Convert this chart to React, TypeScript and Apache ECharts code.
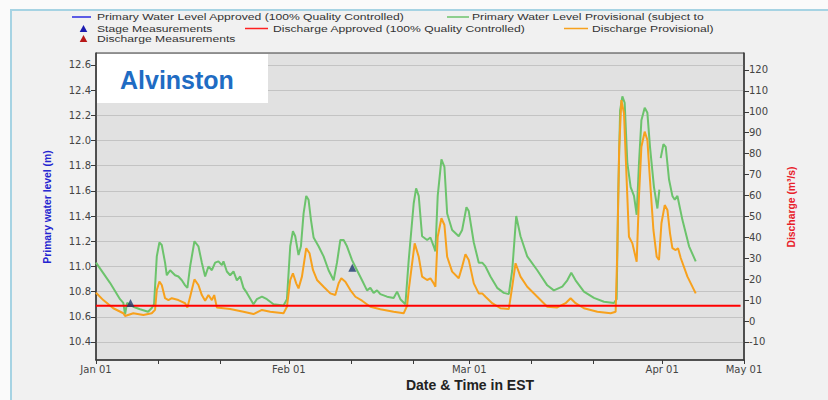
import React, { useEffect, useRef } from "react";
import * as echarts from "echarts";

// ---- data ----
const xLabelDays = [0, 31, 60, 91, 104.15];
const xLabelTexts = ["Jan 01", "Feb 01", "Mar 01", "Apr 01", "May 01"];
const xTickDays = [0, 10, 20, 31, 41, 51, 60, 70, 80, 91, 104.15];
const levelTicks = [10.4, 10.6, 10.8, 11.0, 11.2, 11.4, 11.6, 11.8, 12.0, 12.2, 12.4, 12.6];
const dischargeTicks = [-10, 0, 10, 20, 30, 40, 50, 60, 70, 80, 90, 100, 110, 120];

// Primary water level provisional: [day since Jan 01, level (m)]
const levelProvisional = [
  [0, 11.03], [2.25, 10.87], [3.86, 10.74], [4.39, 10.71], [4.67, 10.62], [4.99, 10.71], [6.0, 10.68],
  [7.08, 10.66], [8.37, 10.64], [8.96, 10.67], [9.33, 10.7], [9.77, 11.08], [10.19, 11.19], [10.57, 11.17],
  [11.1, 11.03], [11.38, 10.93], [11.91, 10.97], [12.71, 10.93], [13.24, 10.92], [13.79, 10.89], [14.32, 10.85],
  [14.69, 10.83], [15.13, 11.0], [15.82, 11.2], [16.46, 11.16], [17.01, 11.03], [17.54, 10.92], [18.07, 11.0],
  [18.62, 10.97], [19.15, 11.03], [19.68, 11.04], [20.23, 11.01], [20.49, 11.04], [21.03, 10.96], [21.56, 10.93],
  [22.1, 10.96], [22.64, 10.89], [23.17, 10.92], [23.7, 10.83], [24.25, 10.79], [25.31, 10.7], [25.86, 10.74],
  [26.67, 10.76], [27.47, 10.74], [28.53, 10.7], [30.14, 10.69], [30.69, 10.74], [31.22, 11.16], [31.65, 11.28],
  [32.02, 11.24], [32.55, 11.09], [32.94, 11.16], [33.36, 11.42], [33.79, 11.56], [34.16, 11.53], [34.55, 11.37],
  [34.97, 11.23], [35.77, 11.16], [36.58, 11.08], [37.38, 10.97], [38.19, 10.89], [38.73, 11.03], [39.27, 11.21],
  [39.8, 11.21], [40.34, 11.16], [41.15, 11.05], [41.95, 10.97], [42.76, 10.89], [43.56, 10.81], [44.09, 10.83],
  [44.62, 10.79], [45.17, 10.81], [45.7, 10.78], [46.78, 10.76], [47.84, 10.75], [48.39, 10.8], [48.92, 10.74],
  [49.73, 10.7], [50.26, 11.05], [51.06, 11.5], [51.45, 11.62], [51.87, 11.56], [52.41, 11.24], [53.22, 11.21],
  [53.75, 11.23], [54.28, 11.16], [54.55, 11.12], [54.92, 11.56], [55.52, 11.85], [56.0, 11.79], [56.44, 11.42],
  [57.24, 11.29], [58.3, 11.24], [58.85, 11.29], [59.54, 11.47], [59.91, 11.44], [60.72, 11.19], [61.52, 11.03],
  [62.07, 11.03], [62.6, 11.0], [63.4, 10.92], [64.48, 10.83], [65.55, 10.79], [66.35, 10.78], [66.9, 10.97],
  [67.54, 11.4], [68.23, 11.24], [69.31, 11.08], [70.92, 10.97], [72.53, 10.85], [73.59, 10.81], [74.94, 10.84],
  [75.75, 10.89], [76.39, 10.95], [77.08, 10.89], [78.42, 10.8], [80.03, 10.75], [81.64, 10.72], [83.25, 10.71],
  [83.68, 10.74], [83.92, 11.53], [84.24, 12.24], [84.6, 12.35], [84.97, 12.3], [85.4, 11.82], [85.93, 11.63],
  [86.47, 11.56], [86.9, 11.41], [87.27, 11.82], [87.66, 12.16], [88.19, 12.26], [88.62, 12.22], [89.04, 11.95],
  [89.68, 11.63], [90.23, 11.46], [90.55, 11.61], [90.65, "-"], [90.76, 11.86], [91.2, 11.97], [91.57, 11.95],
  [92.1, 11.69], [92.64, 11.56], [93.02, 11.53], [93.45, 11.56], [94.25, 11.37], [95.32, 11.16], [96.39, 11.04],
];

// Discharge provisional: [day since Jan 01, discharge (m3/s)]
const dischargeProvisional = [
  [0, 13.5], [1.17, 10.0], [2.78, 6.1], [4.39, 3.7], [4.67, 2.4], [6.0, 3.7], [7.61, 2.9], [8.96, 3.7],
  [9.49, 5.3], [9.77, 14.8], [10.19, 18.8], [10.57, 17.2], [11.1, 10.9], [11.64, 10.0], [12.18, 10.9],
  [13.24, 10.0], [14.32, 8.5], [14.69, 6.5], [15.13, 11.6], [15.82, 19.9], [16.46, 17.2], [17.01, 12.4],
  [17.54, 9.7], [18.07, 12.4], [18.62, 10.0], [19.0, 12.4], [19.42, 6.5], [21.56, 5.7], [23.7, 4.4],
  [25.31, 3.3], [26.67, 5.3], [28.0, 4.4], [30.14, 3.7], [30.69, 6.8], [31.22, 19.6], [31.65, 22.8],
  [32.18, 18.0], [32.55, 15.6], [33.1, 21.2], [33.79, 34.8], [34.32, 32.4], [34.87, 24.4], [35.52, 19.6],
  [36.58, 16.4], [37.66, 13.2], [38.46, 12.4], [39.0, 18.0], [39.43, 20.4], [40.08, 18.8], [40.88, 14.8],
  [41.69, 11.6], [42.76, 9.7], [44.09, 6.8], [45.7, 5.6], [47.84, 4.4], [49.45, 3.7], [50.0, 7.2],
  [50.26, 14.8], [51.22, 37.1], [51.87, 30.7], [52.41, 21.2], [53.22, 19.6], [53.75, 20.4], [54.28, 18.0],
  [54.55, 16.4], [54.92, 40.3], [55.52, 49.1], [56.0, 45.9], [56.44, 30.7], [57.24, 23.6], [58.3, 20.4],
  [58.85, 26.0], [59.38, 31.9], [59.91, 29.2], [60.72, 18.0], [61.52, 13.2], [62.07, 13.2], [62.6, 11.6],
  [63.68, 8.5], [65.01, 6.1], [66.35, 5.7], [66.9, 16.4], [67.43, 27.6], [68.23, 21.2], [69.31, 16.4],
  [70.92, 11.6], [72.53, 6.8], [74.14, 6.5], [75.47, 8.5], [76.28, 10.9], [77.08, 8.5], [78.42, 6.1],
  [80.58, 4.4], [82.72, 3.7], [83.52, 4.4], [83.79, 33.9], [84.08, 81.7], [84.44, 105.6], [84.86, 99.3],
  [85.29, 67.4], [85.66, 40.3], [86.21, 37.1], [86.58, 32.4], [86.9, 28.3], [87.27, 59.4], [87.66, 83.3],
  [88.19, 90.5], [88.62, 86.5], [89.04, 67.4], [89.59, 43.5], [90.12, 30.7], [90.49, 29.2], [90.88, 46.7],
  [91.41, 55.4], [91.84, 53.1], [92.26, 41.9], [92.64, 34.8], [93.17, 33.9], [93.55, 34.8], [93.98, 30.1],
  [95.06, 21.2], [96.39, 13.2],
];

// Discharge approved (flat red line)
const dischargeApproved = [[0, 7.3], [103.6, 7.3]];

// Stage measurements: [day, level]
const stageMeasurements = [[5.55, 10.71], [41.2, 10.99]];

const legendFont = "'Liberation Sans', Arial, sans-serif";

function legendText(text: string, x: number, y: number) {
  return {
    type: "text",
    x,
    y,
    scaleX: 1.35,
    style: { text, fill: "#333", font: `9px ${legendFont}`, textVerticalAlign: "middle" },
    z: 100,
  };
}

function legendLine(x1: number, x2: number, y: number, color: string) {
  return {
    type: "line",
    shape: { x1, y1: y, x2, y2: y },
    style: { stroke: color, lineWidth: 1.5 },
    z: 100,
  };
}

function legendTriangle(cx: number, cy: number, color: string) {
  return {
    type: "polygon",
    shape: { points: [[cx - 3.8, cy + 3.5], [cx + 3.8, cy + 3.5], [cx, cy - 3.5]] },
    style: { fill: color },
    z: 100,
  };
}

export default function App() {
  const ref = useRef<HTMLDivElement>(null);

  useEffect(() => {
    const chart = echarts.init(ref.current as HTMLDivElement, null, { renderer: "svg" });
    const option = {
      animation: false,
      backgroundColor: "transparent",
      textStyle: { fontFamily: "'DejaVu Sans', sans-serif" },
      grid: {
        left: 96,
        top: 53,
        width: 648,
        height: 307,
        show: true,
        backgroundColor: "#e1e1e1",
        borderColor: "#3a3a3a",
        borderWidth: 1,
      },
      xAxis: {
        type: "value",
        min: 0,
        max: 104.15,
        axisLine: { show: true, onZero: false, lineStyle: { color: "#3a3a3a", width: 1.5 } },
        axisTick: { show: true, customValues: xTickDays, length: 4, lineStyle: { color: "#3a3a3a" } },
        axisLabel: {
          customValues: xLabelDays,
          color: "#444",
          fontSize: 10,
          margin: 4,
          formatter: (v: number) => {
            const i = xLabelDays.findIndex((d) => Math.abs(d - v) < 0.01);
            return i >= 0 ? xLabelTexts[i] : "";
          },
        },
        splitLine: { show: false },
      },
      yAxis: [
        {
          type: "value",
          position: "left",
          min: 10.257,
          max: 12.695,
          axisLine: { show: true, onZero: false, lineStyle: { color: "#3a3a3a", width: 1.5 } },
          axisTick: { show: true, customValues: levelTicks, length: 5, lineStyle: { color: "#3a3a3a" } },
          axisLabel: {
            customValues: levelTicks,
            color: "#444",
            fontSize: 10,
            margin: 5,
            formatter: (v: number) => v.toFixed(1),
          },
          splitLine: { show: true, lineStyle: { color: "#c3c3c3", width: 1 } },
        },
        {
          type: "value",
          position: "right",
          min: -18.64,
          max: 128.1,
          axisLine: { show: true, onZero: false, lineStyle: { color: "#3a3a3a", width: 1.5 } },
          axisTick: { show: true, customValues: dischargeTicks, length: 5, lineStyle: { color: "#3a3a3a" } },
          axisLabel: { customValues: dischargeTicks, color: "#444", fontSize: 10, margin: 5 },
          splitLine: { show: false },
        },
      ],
      series: [
        {
          name: "Primary Water Level Provisional",
          type: "line",
          yAxisIndex: 0,
          data: levelProvisional,
          showSymbol: false,
          connectNulls: false,
          lineStyle: { color: "#6cc36c", width: 2 },
          itemStyle: { color: "#6cc36c" },
          z: 3,
        },
        {
          name: "Discharge Provisional",
          type: "line",
          yAxisIndex: 1,
          data: dischargeProvisional,
          showSymbol: false,
          lineStyle: { color: "#f7a11d", width: 2 },
          itemStyle: { color: "#f7a11d" },
          z: 4,
        },
        {
          name: "Discharge Approved",
          type: "line",
          yAxisIndex: 1,
          data: dischargeApproved,
          showSymbol: false,
          lineStyle: { color: "#ff0000", width: 2 },
          itemStyle: { color: "#ff0000" },
          z: 5,
        },
        {
          name: "Stage Measurements",
          type: "scatter",
          yAxisIndex: 0,
          data: stageMeasurements,
          symbol: "triangle",
          symbolSize: 8,
          itemStyle: { color: "#1d3b6e" },
          z: 6,
        },
      ],
      graphic: [
        // station label box
        {
          type: "rect",
          shape: { x: 97, y: 54, width: 171, height: 49 },
          style: { fill: "#ffffff" },
          z: 50,
        },
        {
          type: "text",
          x: 120,
          y: 80,
          style: {
            text: "Alvinston",
            fill: "#1f6cc3",
            font: `bold 25px ${legendFont}`,
            textVerticalAlign: "middle",
          },
          z: 51,
        },
        // legend
        legendLine(72, 91, 17, "#2a2ae0"),
        legendText("Primary Water Level Approved (100% Quality Controlled)", 97, 17),
        legendLine(447, 469, 17, "#6cc36c"),
        legendText("Primary Water Level Provisional (subject to", 472, 17),
        legendTriangle(83.5, 28.5, "#1c1cb0"),
        legendText("Stage Measurements", 97, 28.5),
        legendLine(245, 268, 28.5, "#ff2020"),
        legendText("Discharge Approved (100% Quality Controlled)", 273, 28.5),
        legendLine(564, 588, 28.5, "#f7a11d"),
        legendText("Discharge Provisional)", 592, 28.5),
        legendTriangle(83.5, 38.5, "#b81818"),
        legendText("Discharge Measurements", 97, 38.5),
        // axis names
        {
          type: "text",
          x: 47,
          y: 207,
          rotation: Math.PI / 2,
          scaleX: 0.9,
          style: {
            text: "Primary water level (m)",
            fill: "#2424d0",
            font: `bold 11.5px ${legendFont}`,
            textAlign: "center",
            textVerticalAlign: "middle",
          },
          z: 100,
        },
        {
          type: "text",
          x: 791,
          y: 207,
          rotation: Math.PI / 2,
          scaleX: 0.9,
          style: {
            text: "Discharge (m³/s)",
            fill: "#e8202a",
            font: `bold 11.5px ${legendFont}`,
            textAlign: "center",
            textVerticalAlign: "middle",
          },
          z: 100,
        },
        {
          type: "text",
          x: 470,
          y: 385,
          style: {
            text: "Date & Time in EST",
            fill: "#222",
            font: `bold 14px ${legendFont}`,
            textAlign: "center",
            textVerticalAlign: "middle",
          },
          z: 100,
        },
      ],
    };
    chart.setOption(option as any);
    return () => chart.dispose();
  }, []);

  return (
    <div
      style={{
        position: "fixed",
        left: 0,
        top: 0,
        width: 828,
        height: 400,
        background: "#fafafa",
        overflow: "hidden",
      }}
    >
      <div
        style={{
          position: "absolute",
          left: 10,
          top: 9,
          width: 830,
          height: 400,
          background: "#f1f1f1",
          borderLeft: "2px solid #a6d3e3",
          borderTop: "2px solid #a6d3e3",
          boxSizing: "border-box",
        }}
      />
      <div ref={ref} style={{ position: "absolute", left: 0, top: 0, width: 828, height: 400 }} />
    </div>
  );
}
